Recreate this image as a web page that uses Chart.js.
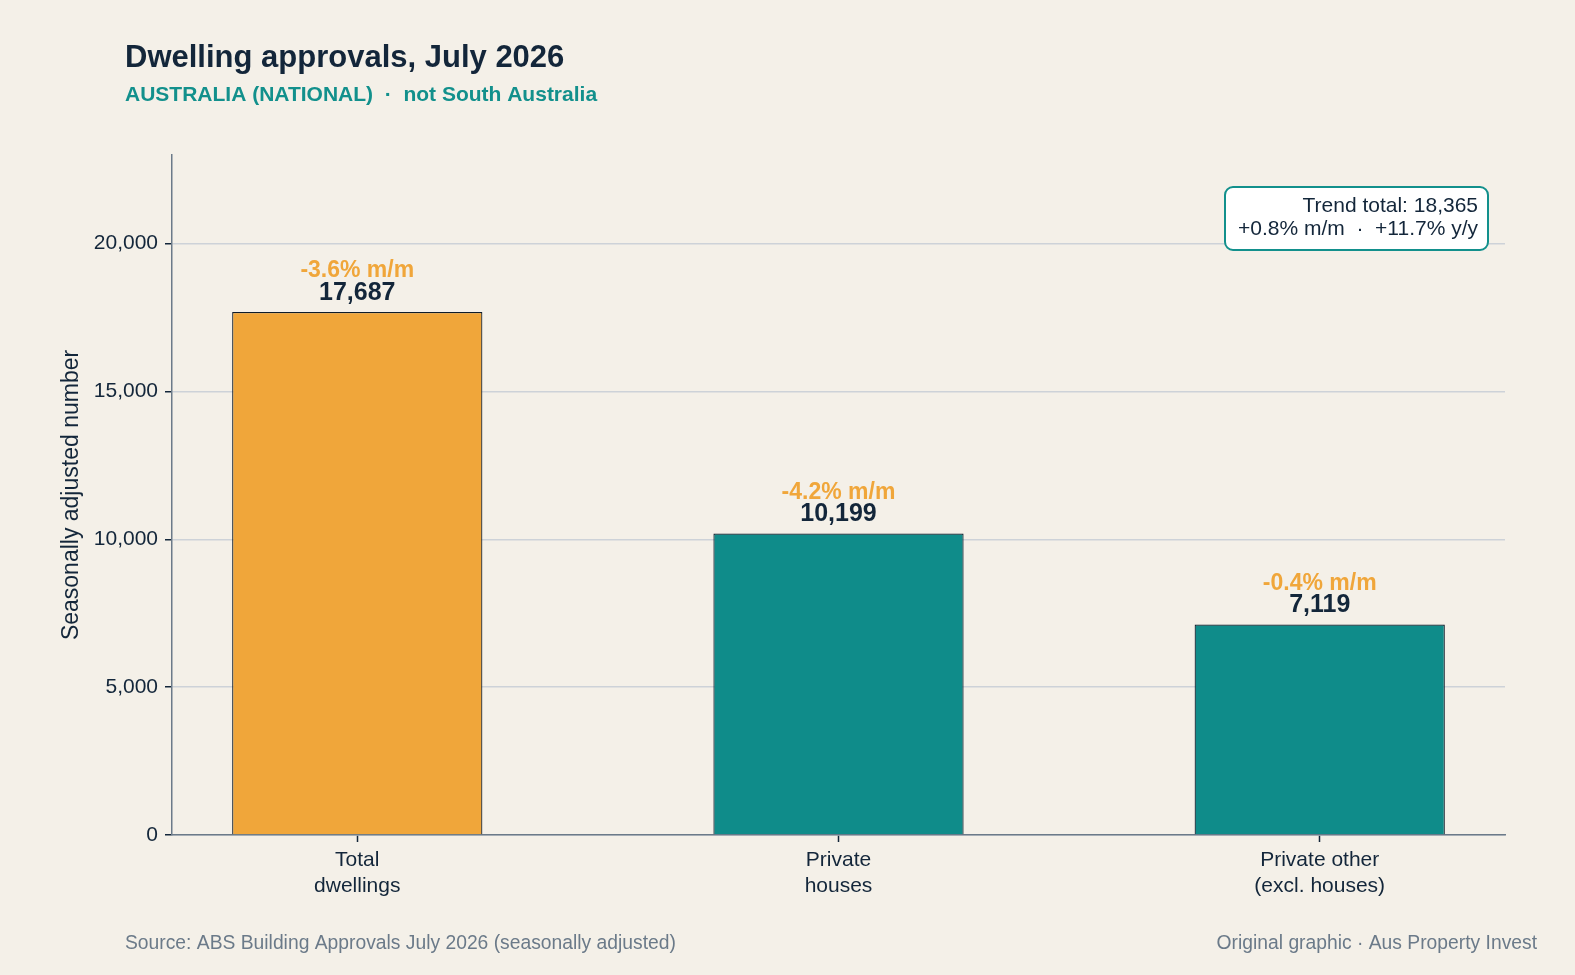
<!DOCTYPE html>
<html>
<head>
<meta charset="utf-8">
<script src="https://cdn.jsdelivr.net/npm/chart.js@4"></script>
<style>
  html, body { margin: 0; padding: 0; background: #f4f0e8; overflow: hidden; }
  #wrap { width: 1575px; height: 975px; position: relative; }
</style>
</head>
<body>
<div id="wrap"><canvas id="chart" width="1575" height="975"></canvas></div>
<script>
  // values
  const categories = [["Total", "dwellings"], ["Private", "houses"], ["Private other", "(excl. houses)"]];
  const approvals = [17687, 10199, 7119];
  const monthChange = ["-3.6% m/m", "-4.2% m/m", "-0.4% m/m"];
  const barColours = ["#f0a63a", "#0f8c8a", "#0f8c8a"];
  const yTicks = [0, 5000, 10000, 15000, 20000];
  const trendLines = ["Trend total: 18,365", "+0.8% m/m  \u00b7  +11.7% y/y"];

  const FONT = "'Liberation Sans', Arial, sans-serif";
  const INK = "#13263a";
  const TEAL = "#12908c";
  const GREY = "#6b7a89";

  const points = approvals.map((v, i) => ({ x: i, y: v }));

  // titles, footer, bar labels and trend box
  const extras = {
    id: "extras",
    beforeDraw(chart) {
      const ctx = chart.ctx;
      ctx.save();
      ctx.fillStyle = "#f4f0e8";
      ctx.fillRect(0, 0, chart.width, chart.height);
      ctx.restore();
    },
    afterDraw(chart) {
      const ctx = chart.ctx;
      const xs = chart.scales.x, ys = chart.scales.y;
      ctx.save();
      ctx.textBaseline = "alphabetic";
      ctx.textAlign = "left";
      ctx.fillStyle = INK;
      ctx.font = "bold 31px " + FONT;
      ctx.fillText("Dwelling approvals, July 2026", 125, 67);
      ctx.fillStyle = TEAL;
      ctx.font = "bold 21px " + FONT;
      ctx.fillText("AUSTRALIA (NATIONAL)  \u00b7  not South Australia", 125, 101);

      ctx.fillStyle = GREY;
      ctx.font = "19.3px " + FONT;
      ctx.fillText("Source: ABS Building Approvals July 2026 (seasonally adjusted)", 125, 949);
      ctx.textAlign = "right";
      ctx.fillText("Original graphic \u00b7 Aus Property Invest", 1537, 949);

      // labels above bars
      ctx.textAlign = "center";
      ctx.textBaseline = "middle";
      approvals.forEach((v, i) => {
        const px = xs.getPixelForValue(i);
        const py = ys.getPixelForValue(v);
        ctx.fillStyle = INK;
        ctx.font = "bold 25px " + FONT;
        ctx.fillText(v.toLocaleString("en-AU"), px, py - 19);
        ctx.fillStyle = "#f0a63a";
        ctx.font = "bold 23px " + FONT;
        ctx.fillText(monthChange[i], px, py - 41);
      });

      // trend box
      const bx = 1225, by = 187, bw = 263, bh = 63;
      ctx.beginPath();
      ctx.roundRect(bx, by, bw, bh, 8);
      ctx.fillStyle = "#ffffff";
      ctx.fill();
      ctx.lineWidth = 2;
      ctx.strokeStyle = TEAL;
      ctx.stroke();
      ctx.fillStyle = INK;
      ctx.font = "21px " + FONT;
      ctx.textAlign = "right";
      ctx.fillText(trendLines[0], bx + bw - 10, by + 19);
      ctx.fillText(trendLines[1], bx + bw - 10, by + 42);
      ctx.restore();
    }
  };

  new Chart(document.getElementById("chart"), {
    type: "bar",
    data: {
      datasets: [{
        data: points,
        backgroundColor: barColours,
        borderColor: "#0d1b2a",
        borderWidth: 1.2,
        barPercentage: 0.52,
        categoryPercentage: 1
      }]
    },
    options: {
      responsive: false,
      animation: false,
      layout: { padding: { top: 155, right: 70, bottom: 0, left: 0 } },
      plugins: { legend: { display: false }, tooltip: { enabled: false } },
      scales: {
        x: {
          type: "linear",
          offset: false,
          min: -0.385,
          max: 2.385,
          afterBuildTicks(axis) { axis.ticks = [0, 1, 2].map(v => ({ value: v })); },
          afterFit(axis) { axis.height = 140; },
          ticks: {
            callback: (v) => categories[v],
            color: INK,
            font: { family: FONT, size: 21 },
            padding: 6,
            maxRotation: 0,
            autoSkip: false
          },
          grid: { offset: false, drawOnChartArea: false, tickLength: 7, tickColor: INK, tickWidth: 1.5 },
          border: { color: GREY, width: 1.5 }
        },
        y: {
          min: 0,
          max: 23000,
          afterBuildTicks(axis) { axis.ticks = yTicks.map(v => ({ value: v })); },
          afterFit(axis) { axis.width = 172; },
          ticks: {
            callback: (v) => v.toLocaleString("en-AU"),
            color: INK,
            font: { family: FONT, size: 21 },
            padding: 7
          },
          grid: { color: "#cdd2d8", lineWidth: 1.5, tickLength: 7, tickColor: INK, tickWidth: 1.5 },
          border: { color: GREY, width: 1.5 },
          title: {
            display: true,
            text: "Seasonally adjusted number",
            color: INK,
            font: { family: FONT, size: 23 },
            padding: { top: 58, bottom: 0 }
          }
        }
      }
    },
    plugins: [extras]
  });
</script>
</body>
</html>
